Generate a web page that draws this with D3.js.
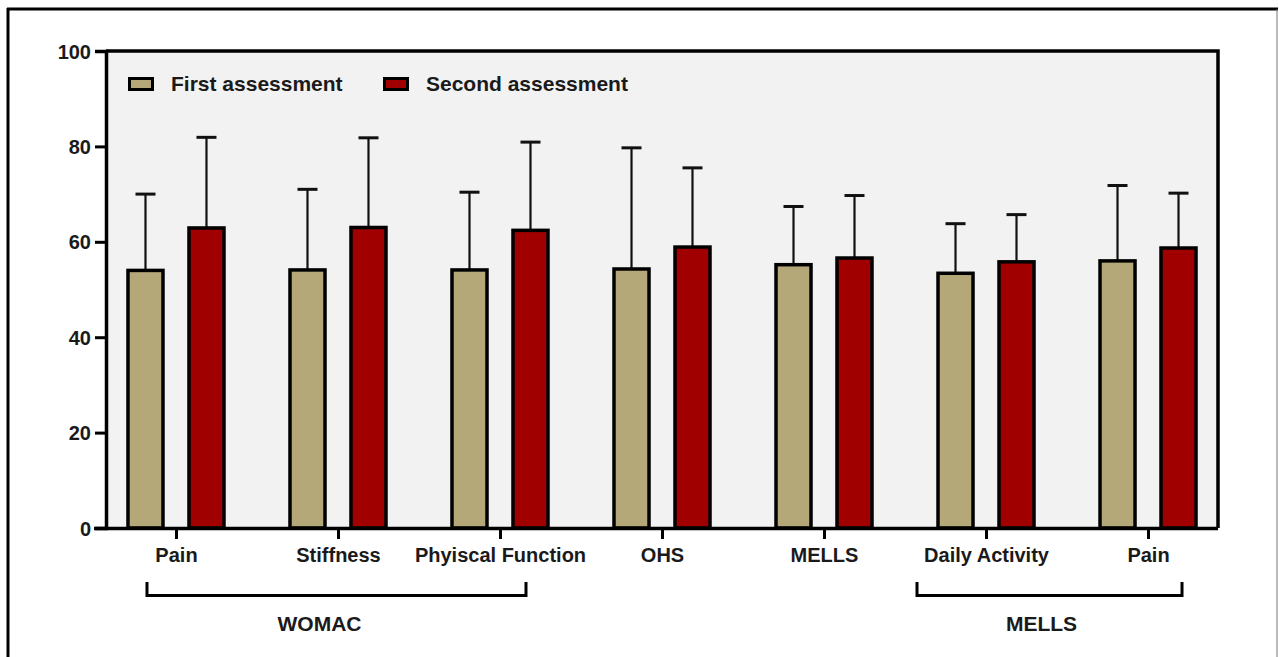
<!DOCTYPE html>
<html>
<head>
<meta charset="utf-8">
<script src="https://cdn.jsdelivr.net/npm/d3@7"></script>
<style>
  html, body { margin: 0; padding: 0; background: #ffffff; }
  svg { display: block; }
  text { font-family: "Liberation Sans", Arial, sans-serif; font-weight: bold; fill: #1a1a1a; }
</style>
</head>
<body>
<svg id="chart" width="1279" height="657"></svg>
<script>
// ---- data ----
const categories = ["Pain", "Stiffness", "Phyiscal Function", "OHS", "MELLS", "Daily Activity", "Pain "];
const categoryLabels = ["Pain", "Stiffness", "Phyiscal Function", "OHS", "MELLS", "Daily Activity", "Pain"];
const seriesNames = ["First assessment", "Second assessment"];
const firstMean = [54.0, 54.1, 54.1, 54.3, 55.2, 53.4, 56.0];
const secondMean = [62.9, 63.0, 62.4, 58.9, 56.6, 55.8, 58.7];
const firstSD = [16.0, 16.9, 16.3, 25.4, 12.2, 10.4, 15.8];
const secondSD = [19.0, 18.8, 18.5, 16.6, 13.1, 9.9, 11.5];
const yTicks = [0, 20, 40, 60, 80, 100];
const groupLabels = ["WOMAC", "MELLS"];
const groupFrom = ["Pain", "Daily Activity"];
const groupTo = ["Phyiscal Function", "Pain "];
const colors = ["#b5a878", "#a00000"];

// ---- layout ----
const svg = d3.select("#chart");
const plot = { left: 106, right: 1218, top: 51, bottom: 528 };
const bracketPadLeft = [29, 69];
const bracketPadRight = [26, 34];
const bracketLabelShift = [-17, -8];

const x = d3.scalePoint().domain(categories).range([plot.left, plot.right]).padding(0.432);
const x1 = d3.scaleBand().domain(seriesNames).range([-48, 48]).paddingInner(0.426);
const y = d3.scaleLinear().domain([0, 100]).range([plot.bottom, plot.top]);

// outer frame
svg.append("line").attr("x1", 8).attr("x2", 8).attr("y1", 8).attr("y2", 657).attr("stroke", "#000").attr("stroke-width", 3);
svg.append("line").attr("x1", 7).attr("x2", 1278).attr("y1", 9).attr("y2", 9).attr("stroke", "#000").attr("stroke-width", 3);
svg.append("line").attr("x1", 1277).attr("x2", 1277).attr("y1", 9).attr("y2", 657).attr("stroke", "#777").attr("stroke-width", 1);

// plot background
svg.append("rect").attr("x", plot.left).attr("y", plot.top)
  .attr("width", plot.right - plot.left).attr("height", plot.bottom - plot.top)
  .attr("fill", "#f2f2f2");

// data rows
const rows = categories.map((c, i) => ({
  cat: c,
  vals: [
    { s: seriesNames[0], mean: firstMean[i], sd: firstSD[i], color: colors[0] },
    { s: seriesNames[1], mean: secondMean[i], sd: secondSD[i], color: colors[1] }
  ]
}));

const g = svg.append("g");
const groups = g.selectAll("g.grp").data(rows).join("g")
  .attr("class", "grp")
  .attr("transform", d => `translate(${x(d.cat)},0)`);

// error bars (upper only)
groups.selectAll("line.err").data(d => d.vals).join("line")
  .attr("class", "err")
  .attr("x1", d => x1(d.s) + x1.bandwidth() / 2)
  .attr("x2", d => x1(d.s) + x1.bandwidth() / 2)
  .attr("y1", d => y(d.mean))
  .attr("y2", d => y(d.mean + d.sd))
  .attr("stroke", "#111").attr("stroke-width", 2.2);
groups.selectAll("line.cap").data(d => d.vals).join("line")
  .attr("class", "cap")
  .attr("x1", d => x1(d.s) + x1.bandwidth() / 2 - 10)
  .attr("x2", d => x1(d.s) + x1.bandwidth() / 2 + 10)
  .attr("y1", d => y(d.mean + d.sd))
  .attr("y2", d => y(d.mean + d.sd))
  .attr("stroke", "#111").attr("stroke-width", 3);

// bars
groups.selectAll("rect.bar").data(d => d.vals).join("rect")
  .attr("class", "bar")
  .attr("x", d => x1(d.s))
  .attr("width", x1.bandwidth())
  .attr("y", d => y(d.mean))
  .attr("height", d => y(0) - y(d.mean))
  .attr("fill", d => d.color)
  .attr("stroke", "#000").attr("stroke-width", 3.5);

// plot border top/right
svg.append("path")
  .attr("d", `M${plot.left},${plot.top}H${plot.right}V${plot.bottom}`)
  .attr("fill", "none").attr("stroke", "#000").attr("stroke-width", 3.5);

// y axis
const yAxis = svg.append("g").attr("transform", `translate(${plot.left},0)`)
  .call(d3.axisLeft(y).tickValues(yTicks).tickSize(11).tickPadding(4));
yAxis.attr("font-family", null);
yAxis.select(".domain").attr("stroke", "#000").attr("stroke-width", 3.5);
yAxis.selectAll(".tick line").attr("stroke", "#000").attr("stroke-width", 3);
yAxis.selectAll(".tick text").attr("font-size", 20).style("fill", "#1a1a1a").attr("dy", "0.35em");

// x axis
const xAxis = svg.append("g").attr("transform", `translate(0,${plot.bottom})`)
  .call(d3.axisBottom(x).tickSize(11).tickPadding(6).tickFormat((d, i) => categoryLabels[i]));
xAxis.attr("font-family", null);
xAxis.select(".domain").attr("stroke", "#000").attr("stroke-width", 3.5)
  .attr("d", `M${plot.left - 12},0.5H${plot.right}`);
xAxis.selectAll(".tick line").attr("stroke", "#000").attr("stroke-width", 3);
xAxis.selectAll(".tick text").attr("font-size", 20).style("fill", "#1a1a1a").attr("dy", "0.85em");

// group brackets
groupLabels.forEach((label, i) => {
  const x0 = x(groupFrom[i]) - bracketPadLeft[i], xe = x(groupTo[i]) + bracketPadRight[i];
  svg.append("path")
    .attr("d", `M${x0},582V595.5H${xe}V582`)
    .attr("fill", "none").attr("stroke", "#000").attr("stroke-width", 3);
  svg.append("text")
    .attr("x", (x0 + xe) / 2 + bracketLabelShift[i]).attr("y", 631)
    .attr("text-anchor", "middle").attr("font-size", 21)
    .text(label);
});

// legend
const legend = svg.append("g");
const legendX = [128, 383];
seriesNames.forEach((s, i) => {
  legend.append("rect").attr("x", legendX[i] + 1.5).attr("y", 78.5)
    .attr("width", 23).attr("height", 11)
    .attr("fill", colors[i]).attr("stroke", "#000").attr("stroke-width", 3);
  legend.append("text").attr("x", legendX[i] + 43).attr("y", 91)
    .attr("font-size", 21).text(s);
});
</script>
</body>
</html>
